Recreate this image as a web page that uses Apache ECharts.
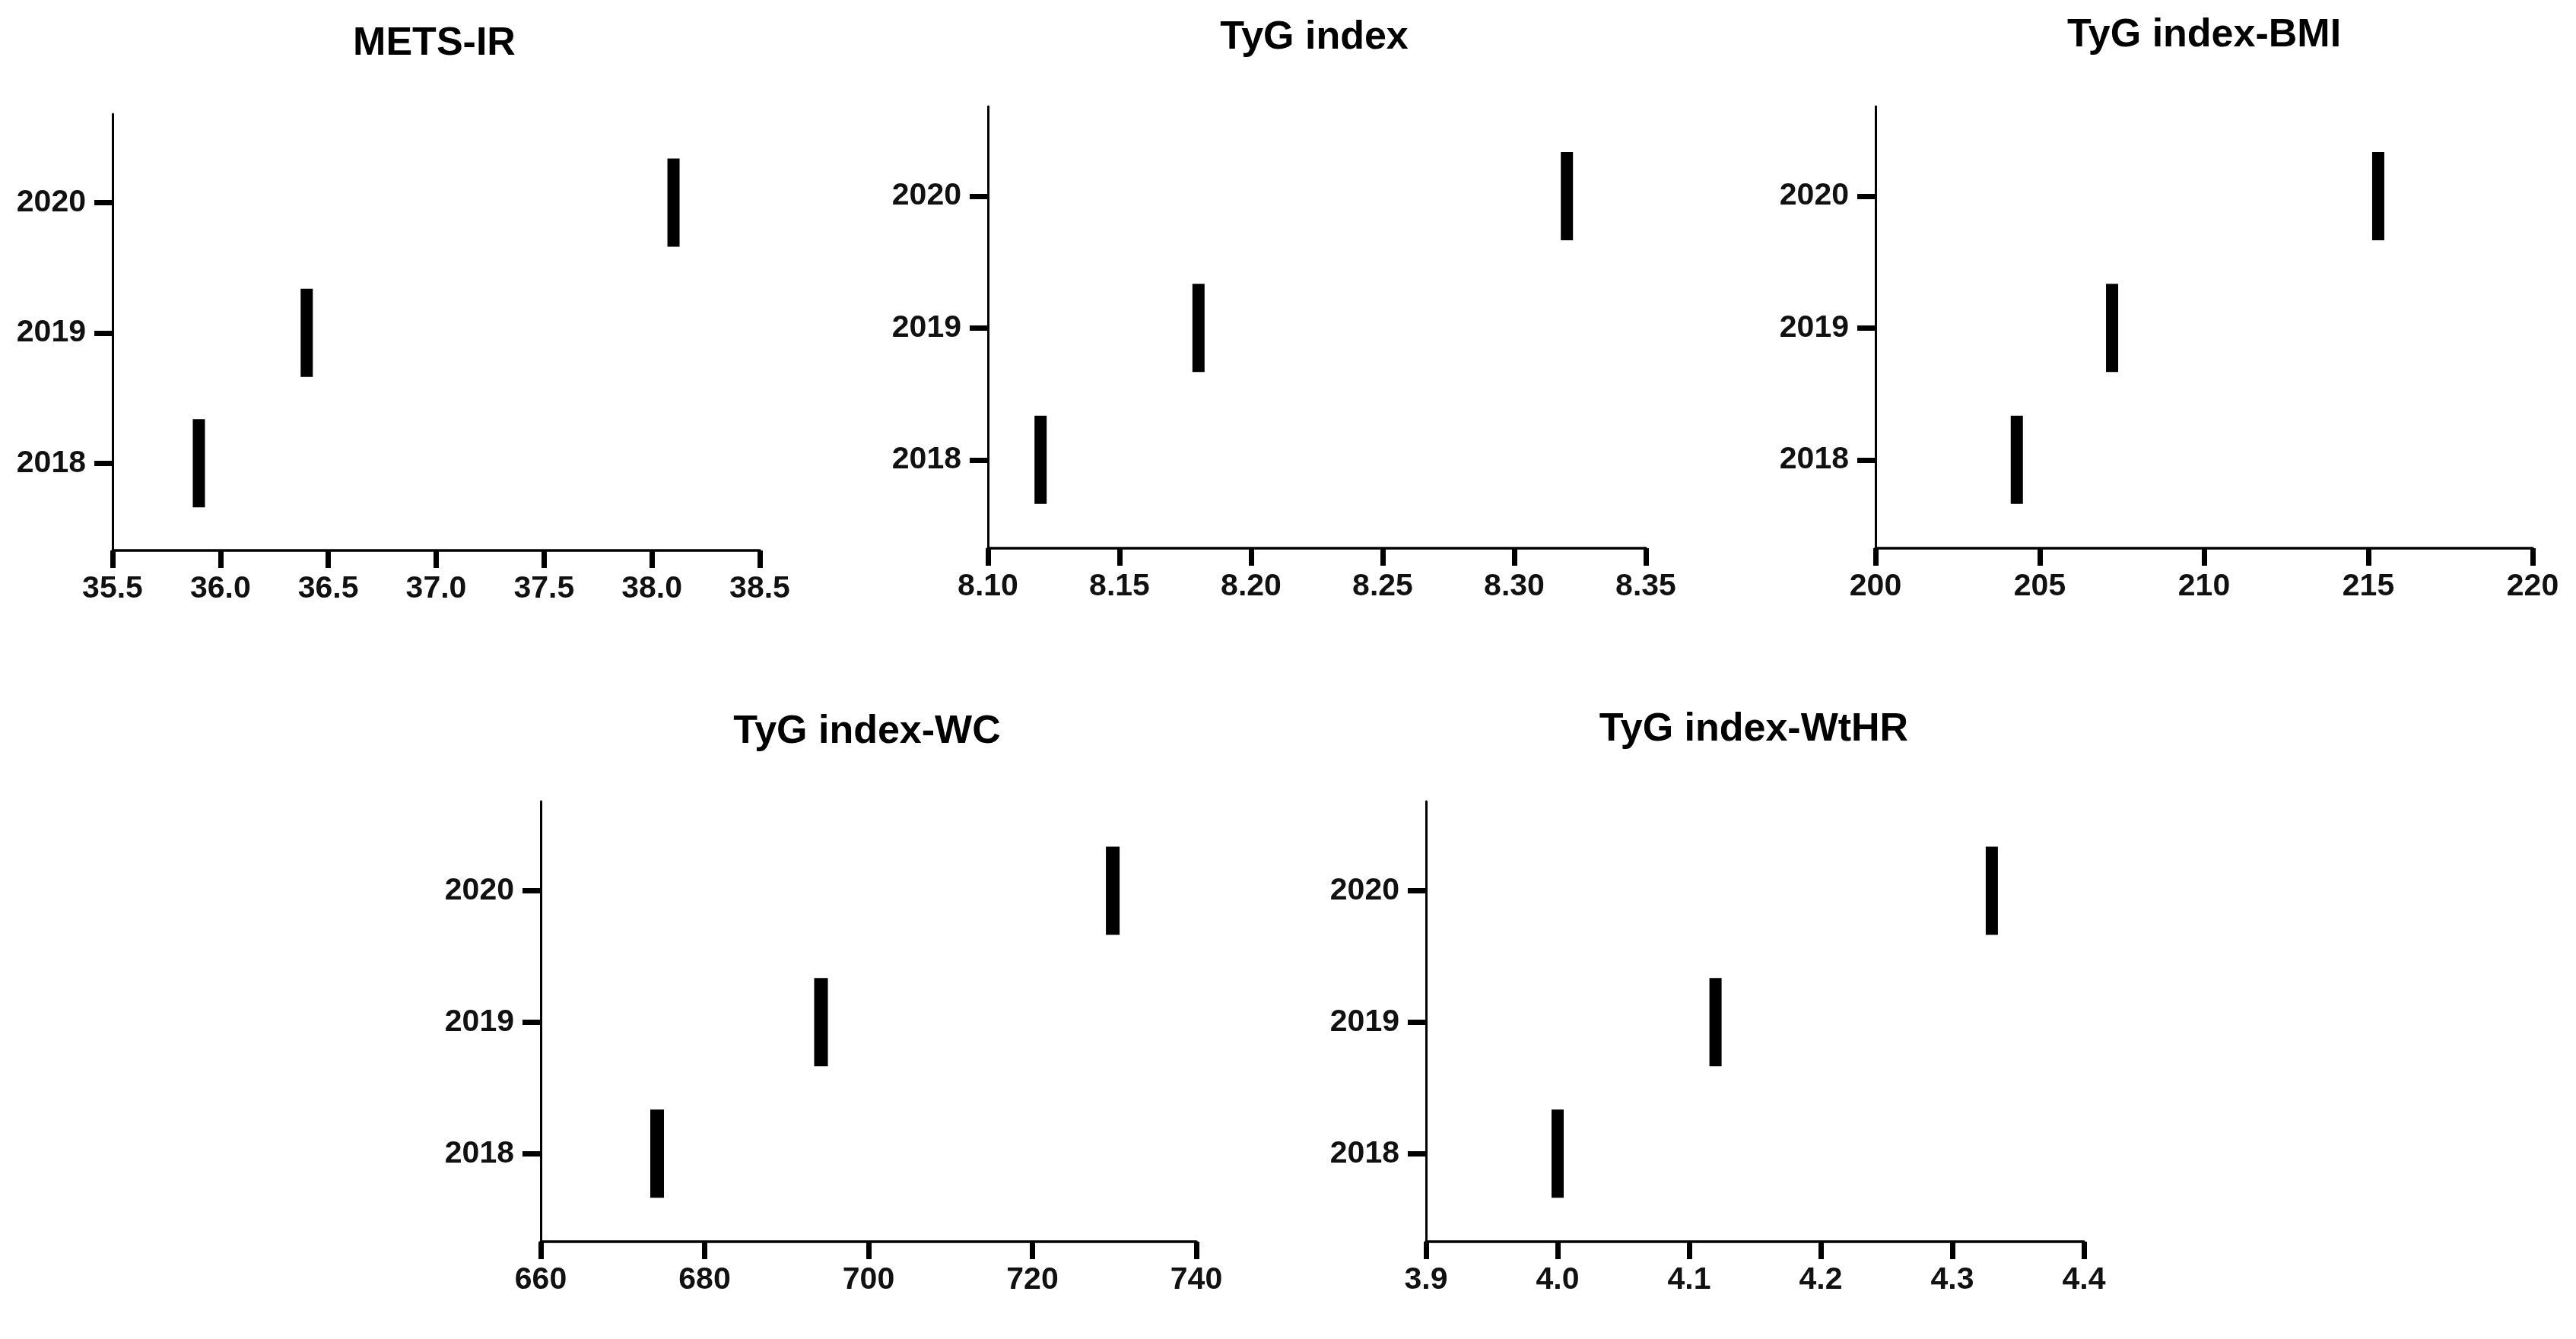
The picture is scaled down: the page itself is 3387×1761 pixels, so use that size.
<!DOCTYPE html>
<html><head><meta charset="utf-8">
<script src="https://cdn.jsdelivr.net/npm/echarts@6/dist/echarts.min.js"></script>
<style>html,body{margin:0;padding:0;background:#fff}#c{width:3387px;height:1761px}</style>
</head><body><div id="c"></div>
<script>
// ---- data ----
const years = [2018, 2019, 2020];
const yearLabels = ['2018', '2019', '2020'];
const titles = ['METS-IR', 'TyG index', 'TyG index-BMI', 'TyG index-WC', 'TyG index-WtHR'];
const metsIR = [35.9, 36.4, 38.1];
const tygIndex = [8.12, 8.18, 8.32];
const tygBMI = [204.3, 207.2, 215.3];
const tygWC = [674.2, 694.2, 729.8];
const tygWtHR = [4.00, 4.12, 4.33];
const ticksMetsIR = ['35.5', '36.0', '36.5', '37.0', '37.5', '38.0', '38.5'];
const ticksTyG = ['8.10', '8.15', '8.20', '8.25', '8.30', '8.35'];
const ticksBMI = ['200', '205', '210', '215', '220'];
const ticksWC = ['660', '680', '700', '720', '740'];
const ticksWtHR = ['3.9', '4.0', '4.1', '4.2', '4.3', '4.4'];

// ---- layout ----
const seriesValues = [metsIR, tygIndex, tygBMI, tygWC, tygWtHR];
const seriesTicks = [ticksMetsIR, ticksTyG, ticksBMI, ticksWC, ticksWtHR];
const grids = [
  {left: 148, top: 150, width: 851, height: 574},
  {left: 1299, top: 140, width: 865, height: 581},
  {left: 2466, top: 140, width: 864, height: 581},
  {left: 711, top: 1054, width: 862, height: 579},
  {left: 1875, top: 1054, width: 865, height: 579}
];
const titlePos = [[571, 58], [1728, 50], [2898, 47], [1140, 963], [2306, 960]];
const barW = [16, 16, 16, 18, 16];
const FONT = '"Liberation Sans", Arial, sans-serif';

const chart = echarts.init(document.getElementById('c'), null, {renderer: 'canvas'});
const xAxes = [], yAxes = [], series = [], graphics = [];
seriesTicks.forEach((ticks, i) => {
  const min = parseFloat(ticks[0]);
  const max = parseFloat(ticks[ticks.length - 1]);
  const interval = (max - min) / (ticks.length - 1);
  xAxes.push({
    type: 'value', gridIndex: i, min: min, max: max, interval: interval,
    splitLine: {show: false},
    axisLine: {show: true, onZero: false, lineStyle: {color: '#000', width: 3.5}},
    axisTick: {show: true, length: 23, lineStyle: {color: '#000', width: 7}},
    axisLabel: {
      margin: 30, fontSize: 41, fontWeight: 'bold', color: '#111', fontFamily: FONT,
      formatter: v => ticks[Math.round((v - min) / interval)]
    }
  });
  yAxes.push({
    type: 'value', gridIndex: i, min: 2017.33, max: 2020.68,
    splitLine: {show: false},
    axisLine: {show: true, onZero: false, lineStyle: {color: '#000', width: 3}},
    axisTick: {show: true, customValues: years, length: 24, lineStyle: {color: '#000', width: 7}},
    axisLabel: {
      customValues: years, margin: 35, fontSize: 41, fontWeight: 'bold', color: '#111', fontFamily: FONT,
      formatter: v => yearLabels[years.indexOf(Math.round(v))]
    }
  });
  series.push({
    type: 'scatter', xAxisIndex: i, yAxisIndex: i,
    symbol: 'rect', symbolSize: [barW[i], 116],
    itemStyle: {color: '#000', opacity: 1}, silent: true,
    data: seriesValues[i].map((v, k) => [v, years[k]])
  });
  graphics.push({
    type: 'text', x: titlePos[i][0], y: titlePos[i][1], silent: true,
    style: {
      text: titles[i], fill: '#000', fontSize: 52, fontWeight: 'bold', fontFamily: FONT,
      align: 'center', verticalAlign: 'middle', textAlign: 'center', textVerticalAlign: 'middle'
    }
  });
});

chart.setOption({
  backgroundColor: '#fff',
  animation: false,
  grid: grids.map(g => Object.assign({containLabel: false}, g)),
  xAxis: xAxes,
  yAxis: yAxes,
  series: series,
  graphic: graphics
});
</script></body></html>
